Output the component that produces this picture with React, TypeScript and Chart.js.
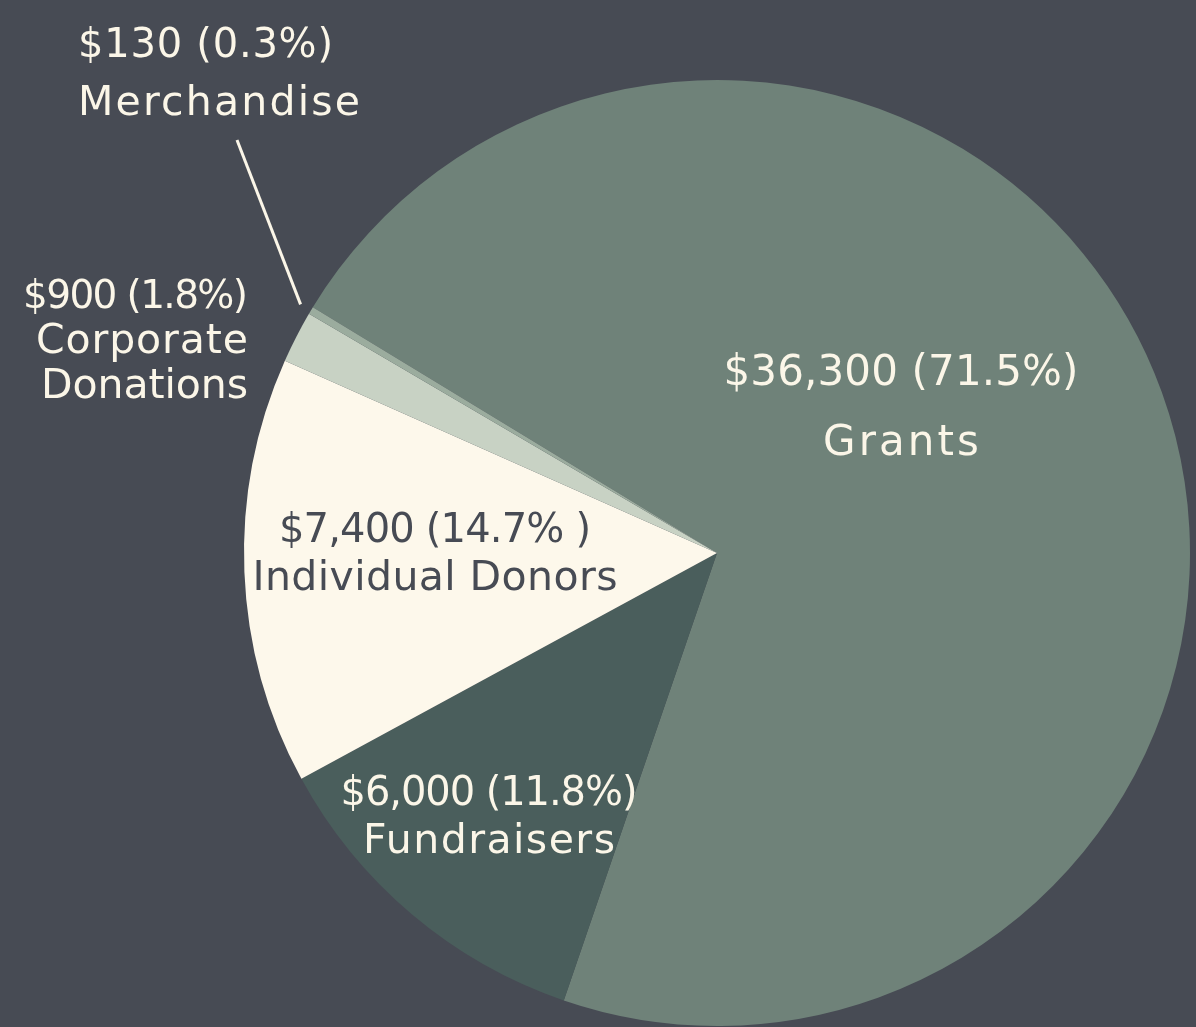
import React, { useEffect, useRef } from "react";
import { Chart, registerables } from "chart.js";

Chart.register(...registerables);

const categories = ["Grants", "Fundraisers", "Individual Donors", "Corporate Donations", "Merchandise"];
const amounts = [36300, 6000, 7400, 900, 130];
const amountLabels = ["$36,300 (71.5%)", "$6,000 (11.8%)", "$7,400 (14.7% )", "$900 (1.8%)", "$130 (0.3%)"];
const nameLines = [["Grants"], ["Fundraisers"], ["Individual Donors"], ["Corporate", "Donations"], ["Merchandise"]];
const sliceColors = ["#6F8279", "#4A5E5C", "#FDF8EB", "#C8D2C4", "#9BAC9E"];

const BG = "#474B54";
const CREAM = "#FBF6E8";
const FONT = "'DejaVu Sans', sans-serif";

// label layout (canvas pixels), separate from data: anchor, baselines, line widths, line font sizes
const labelLayout = [
  { x: 901, ys: [385, 455], align: "center", widths: [355, 156], sizes: [42, 42], color: CREAM },
  { x: 489, ys: [805, 853], align: "center", widths: [297, 252], sizes: [40, 41], color: CREAM },
  { x: 435, ys: [542, 590], align: "center", widths: [312, 365], sizes: [40, 41], color: "#474B54" },
  { x: 248, ys: [308, 353, 398], align: "right", widths: [225, 212, 207], sizes: [39, 41, 41], color: CREAM },
  { x: 78, ys: [57, 115], align: "left", widths: [255, 282], sizes: [40, 41], color: CREAM },
];

const bgPlugin = {
  id: "bgFill",
  beforeDraw(chart: any) {
    const ctx = chart.ctx;
    ctx.save();
    ctx.fillStyle = BG;
    ctx.fillRect(0, 0, chart.width, chart.height);
    ctx.restore();
  },
};

const labelPlugin = {
  id: "sliceLabels",
  afterDatasetsDraw(chart: any) {
    const ctx = chart.ctx;
    ctx.save();
    ctx.textBaseline = "alphabetic";
    ctx.textAlign = "left";
    categories.forEach((_, i) => {
      const L = labelLayout[i];
      const lines = [amountLabels[i], ...nameLines[i]];
      ctx.fillStyle = L.color;
      lines.forEach((t, k) => {
        ctx.font = `${L.sizes[k]}px ${FONT}`;
        (ctx as any).letterSpacing = "0px";
        const w0 = ctx.measureText(t).width;
        const target = L.widths[k];
        const n = Array.from(t).length;
        const s = n > 1 ? (target - w0) / (n - 1) : 0;
        (ctx as any).letterSpacing = `${s}px`;
        let x0 = L.x;
        if (L.align === "center") x0 = L.x - target / 2;
        else if (L.align === "right") x0 = L.x - target;
        ctx.fillText(t, x0, L.ys[k]);
      });
    });
    (ctx as any).letterSpacing = "0px";
    // leader line for Merchandise
    const meta = chart.getDatasetMeta(0);
    const arc = meta.data[4];
    if (arc) {
      const mid = (arc.startAngle + arc.endAngle) / 2;
      const r = arc.outerRadius + 12;
      const ex = arc.x + Math.cos(mid) * r;
      const ey = arc.y + Math.sin(mid) * r;
      ctx.strokeStyle = CREAM;
      ctx.lineWidth = 3;
      ctx.beginPath();
      ctx.moveTo(237, 140);
      ctx.lineTo(ex, ey);
      ctx.stroke();
    }
    ctx.restore();
  },
};

export default function App() {
  const ref = useRef<HTMLCanvasElement | null>(null);
  useEffect(() => {
    document.body.style.margin = "0";
    document.body.style.background = BG;
    const chart = new Chart(ref.current as HTMLCanvasElement, {
      type: "pie",
      data: {
        labels: categories,
        datasets: [
          {
            data: amounts,
            backgroundColor: sliceColors,
            borderWidth: 0,
          },
        ],
      },
      options: {
        responsive: false,
        animation: false,
        rotation: 301.3,
        layout: { padding: { top: 80, bottom: 1, left: 244, right: 6 } },
        plugins: {
          legend: { display: false },
          tooltip: { enabled: false },
        },
      },
      plugins: [bgPlugin, labelPlugin],
    } as any);
    return () => chart.destroy();
  }, []);
  return (
    <div style={{ width: 1196, height: 1027, background: BG }}>
      <canvas ref={ref} width={1196} height={1027} style={{ display: "block" }} />
    </div>
  );
}
